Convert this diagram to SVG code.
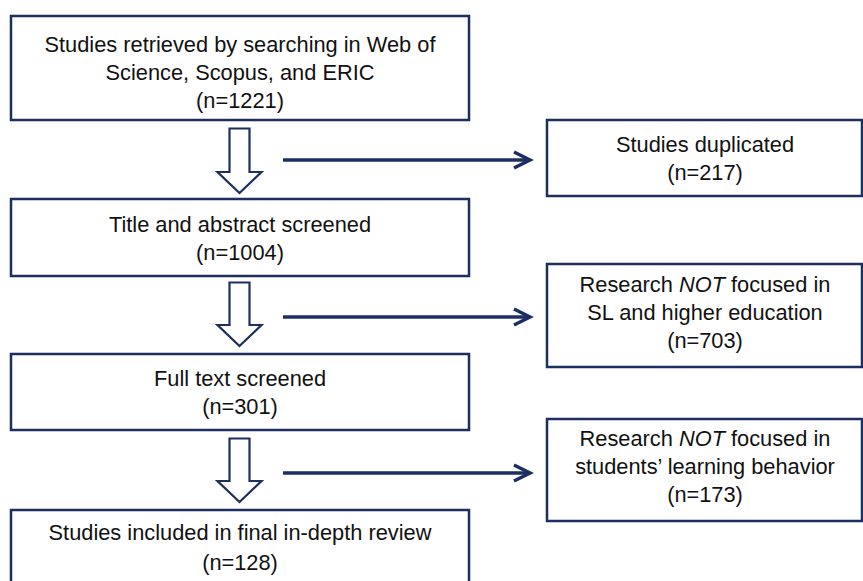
<svg xmlns="http://www.w3.org/2000/svg" width="863" height="581" viewBox="0 0 863 581">
<style>
.box{fill:#fff;stroke:#1c2f62;stroke-width:2.5}
.t{font-family:"Liberation Sans",Arial,sans-serif;font-size:21.8px;fill:#111;text-anchor:middle}
.hollow{fill:#fff;stroke:#1c2f62;stroke-width:2.2;stroke-linejoin:miter}
.conn{stroke:#1c2f62;stroke-width:3.5;fill:none}
</style>
<defs>
<marker id="ah" markerUnits="userSpaceOnUse" markerWidth="24" markerHeight="20" refX="20" refY="10" orient="auto">
<path d="M4,2 L20,10 L4,18" fill="none" stroke="#1c2f62" stroke-width="3.5"/>
</marker>
</defs>
<rect width="863" height="581" fill="#fff"/>
<g id="n1"><rect class="box" x="11" y="16" width="458" height="104"/>
<text class="t" x="240" y="52">Studies retrieved by searching in Web of</text>
<text class="t" x="240" y="80">Science, Scopus, and ERIC</text>
<text class="t" x="240" y="108">(n=1221)</text></g>
<g id="n2"><rect class="box" x="11" y="199" width="458" height="77"/>
<text class="t" x="240" y="232">Title and abstract screened</text>
<text class="t" x="240" y="260">(n=1004)</text></g>
<g id="n3"><rect class="box" x="11" y="354" width="458" height="76"/>
<text class="t" x="240" y="386">Full text screened</text>
<text class="t" x="240" y="414">(n=301)</text></g>
<g id="n4"><rect class="box" x="11" y="510" width="458" height="80"/>
<text class="t" x="240" y="540">Studies included in final in-depth review</text>
<text class="t" x="240" y="570">(n=128)</text></g>
<g id="e1"><rect class="box" x="547" y="120" width="315" height="76"/>
<text class="t" x="705" y="152">Studies duplicated</text>
<text class="t" x="705" y="180">(n=217)</text></g>
<g id="e2"><rect class="box" x="547" y="264" width="315" height="103"/>
<text class="t" x="705" y="292">Research <tspan font-style="italic">NOT</tspan> focused in</text>
<text class="t" x="705" y="320">SL and higher education</text>
<text class="t" x="705" y="348">(n=703)</text></g>
<g id="e3"><rect class="box" x="547" y="419" width="315" height="102"/>
<text class="t" x="705" y="446">Research <tspan font-style="italic">NOT</tspan> focused in</text>
<text class="t" x="705" y="474">students’ learning behavior</text>
<text class="t" x="705" y="502">(n=173)</text></g>
<g id="connectors">
<polygon class="hollow" points="229.5,128.5 249.5,128.5 249.5,172 261.5,172 239.5,193 217.5,172 229.5,172"/>
<polygon class="hollow" points="229.5,282.5 249.5,282.5 249.5,325 261.5,325 239.5,346 217.5,325 229.5,325"/>
<polygon class="hollow" points="229.5,438.5 249.5,438.5 249.5,481 261.5,481 239.5,502 217.5,481 229.5,481"/>
<line class="conn" x1="283" y1="160" x2="530" y2="160" marker-end="url(#ah)"/>
<line class="conn" x1="283" y1="317" x2="530" y2="317" marker-end="url(#ah)"/>
<line class="conn" x1="283" y1="473" x2="530" y2="473" marker-end="url(#ah)"/>
</g>
</svg>
